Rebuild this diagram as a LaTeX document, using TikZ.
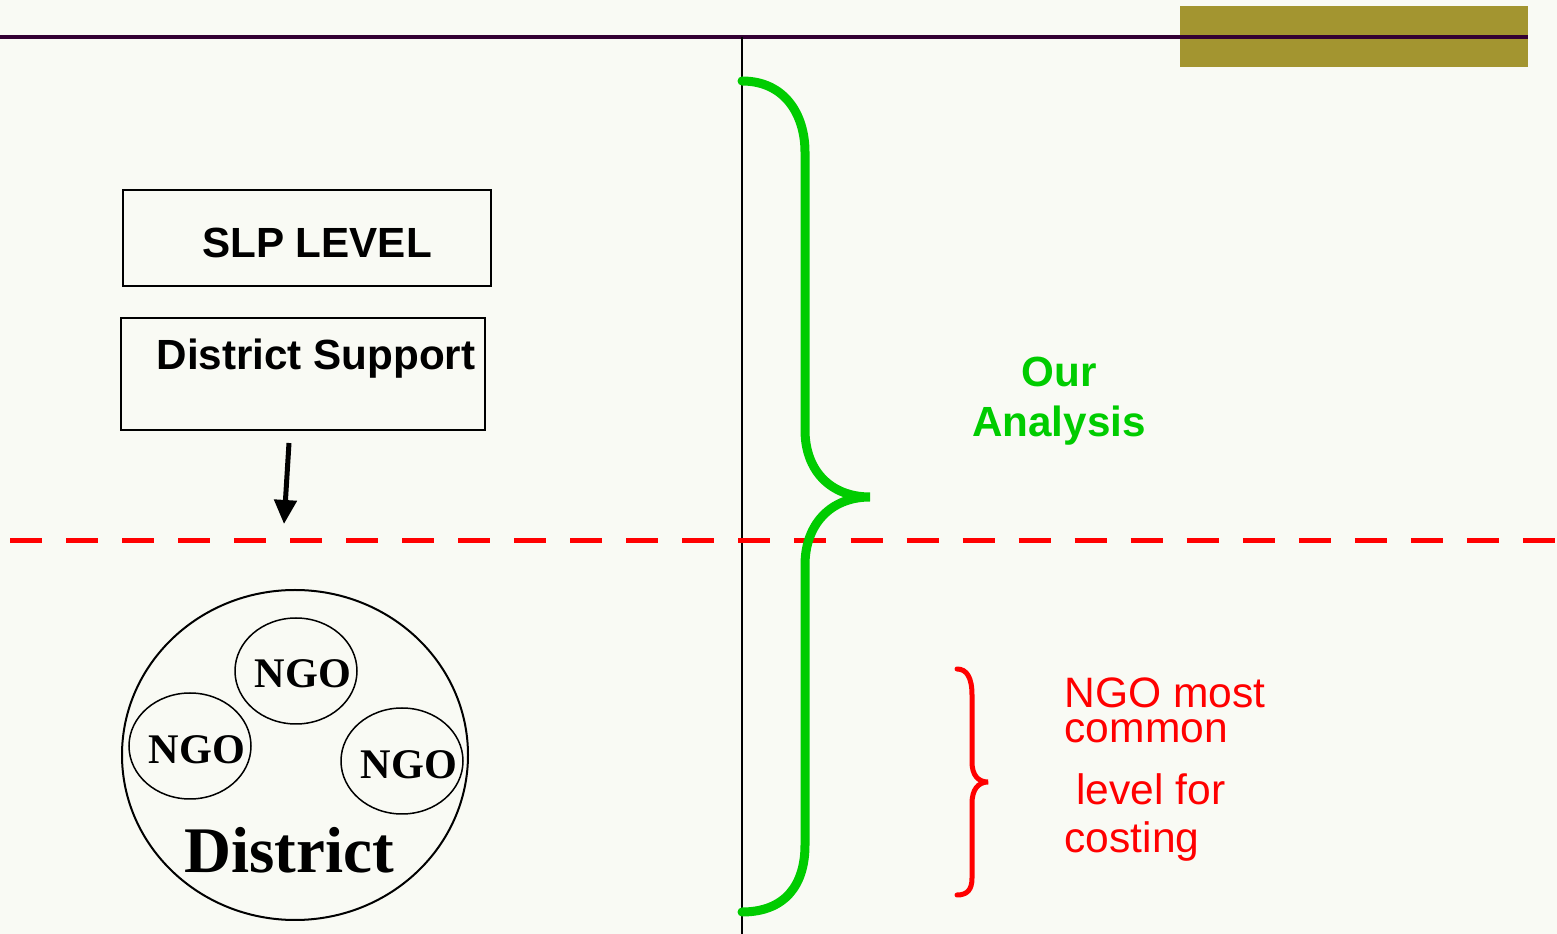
\documentclass[tikz,border=0pt]{standalone}
\usepackage{fontspec}
\setmainfont{Liberation Serif}
\setsansfont{Liberation Sans}
\usetikzlibrary{arrows.meta}
\definecolor{paper}{RGB}{249,250,244}
\definecolor{olive}{RGB}{163,149,48}
\definecolor{plum}{RGB}{51,0,51}
\definecolor{bracegreen}{RGB}{0,204,0}
\definecolor{notered}{RGB}{255,0,0}
\tikzset{
    levelbox/.style={draw, line width=0.02cm},
    ngo/.style={draw, ellipse, line width=0.015cm},
    sanslabel/.style={inner sep=0pt, anchor=base,
        node font={\sffamily\bfseries\fontsize{12pt}{14pt}\selectfont}},
    seriflabel/.style={inner sep=0pt, anchor=base,
        node font={\rmfamily\bfseries\fontsize{12pt}{14pt}\selectfont}},
    notelabel/.style={inner sep=0pt, anchor=base west, text=notered,
        node font={\sffamily\fontsize{12.1pt}{13pt}\selectfont}}
}
\begin{document}
\begin{tikzpicture}[x=0.01cm, y=-0.01cm]
    % page and title bar
    \fill[paper] (0,0) rectangle (1557,934);
    \useasboundingbox (0,0) rectangle (1557,934);
    \fill[olive] (1180,6) rectangle (1528,67);
    \draw[plum, line width=0.04cm] (0,37) -- (1528,37);
    \draw[black, line width=0.02cm] (742,37) -- (742,934);

    % left column: levels
    \draw[levelbox] (123,190) rectangle (491,286);
    \node[sanslabel] (slp) at (317,258) {SLP LEVEL};

    \draw[levelbox] (121,318) rectangle (485,430);
    \node[sanslabel] (support) at (316,370) {District Support};

    \coordinate (arrowtail) at (289,443);
    \coordinate (arrowtip) at (284,524);
    \draw[line width=0.05cm, -{Triangle[length=0.24cm, width=0.22cm]}]
        (arrowtail) -- (arrowtip);

    % divide
    \draw[notered, line width=0.05cm, dash pattern=on 0.32cm off 0.24cm]
        (10,541) -- (1557,541);

    % district with its NGOs
    \draw[line width=0.02cm] (295,755) ellipse [x radius=173, y radius=165];
    \draw[line width=0.015cm] (296,671) ellipse [x radius=61, y radius=53];
    \draw[line width=0.015cm] (190,746) ellipse [x radius=61, y radius=53];
    \draw[line width=0.015cm] (402,761) ellipse [x radius=61, y radius=53];
    \node[seriflabel] (ngotop) at (303,688) {NGO};
    \node[seriflabel] (ngoleft) at (197,764) {NGO};
    \node[seriflabel] (ngoright) at (409,779) {NGO};
    \node[
        seriflabel,
        node font={\rmfamily\bfseries\fontsize{18.5pt}{20pt}\selectfont}]
        (district) at (289,873) {District};

    % braces
    \draw[bracegreen, line width=0.09cm, line cap=round]
        (742,81) .. controls (785,81) and (805,115) .. (805,152)
        -- (805,430) .. controls (805,470) and (830,497) .. (870,497)
        .. controls (830,497) and (805,525) .. (805,565)
        -- (805,845) .. controls (805,885) and (785,912) .. (742,912);
    \draw[notered, line width=0.05cm, line cap=round]
        (957,669) .. controls (967,669) and (972,678) .. (972,695)
        -- (972,762) .. controls (972,775) and (978,782) .. (988,782)
        .. controls (978,782) and (972,790) .. (972,803)
        -- (972,878) .. controls (972,890) and (967,895) .. (957,895);

    % notes
    \node[
        sanslabel,
        text=bracegreen,
        align=center]
        (analysis) at (1059,437) {Our\\[0.01cm]Analysis};
    \node[notelabel] (note1) at (1064,708) {NGO most};
    \node[notelabel] (note2) at (1064,743) {common};
    \node[notelabel] (note3) at (1064,805) {\ level for};
    \node[notelabel] (note4) at (1064,853) {costing};
\end{tikzpicture}
\end{document}
